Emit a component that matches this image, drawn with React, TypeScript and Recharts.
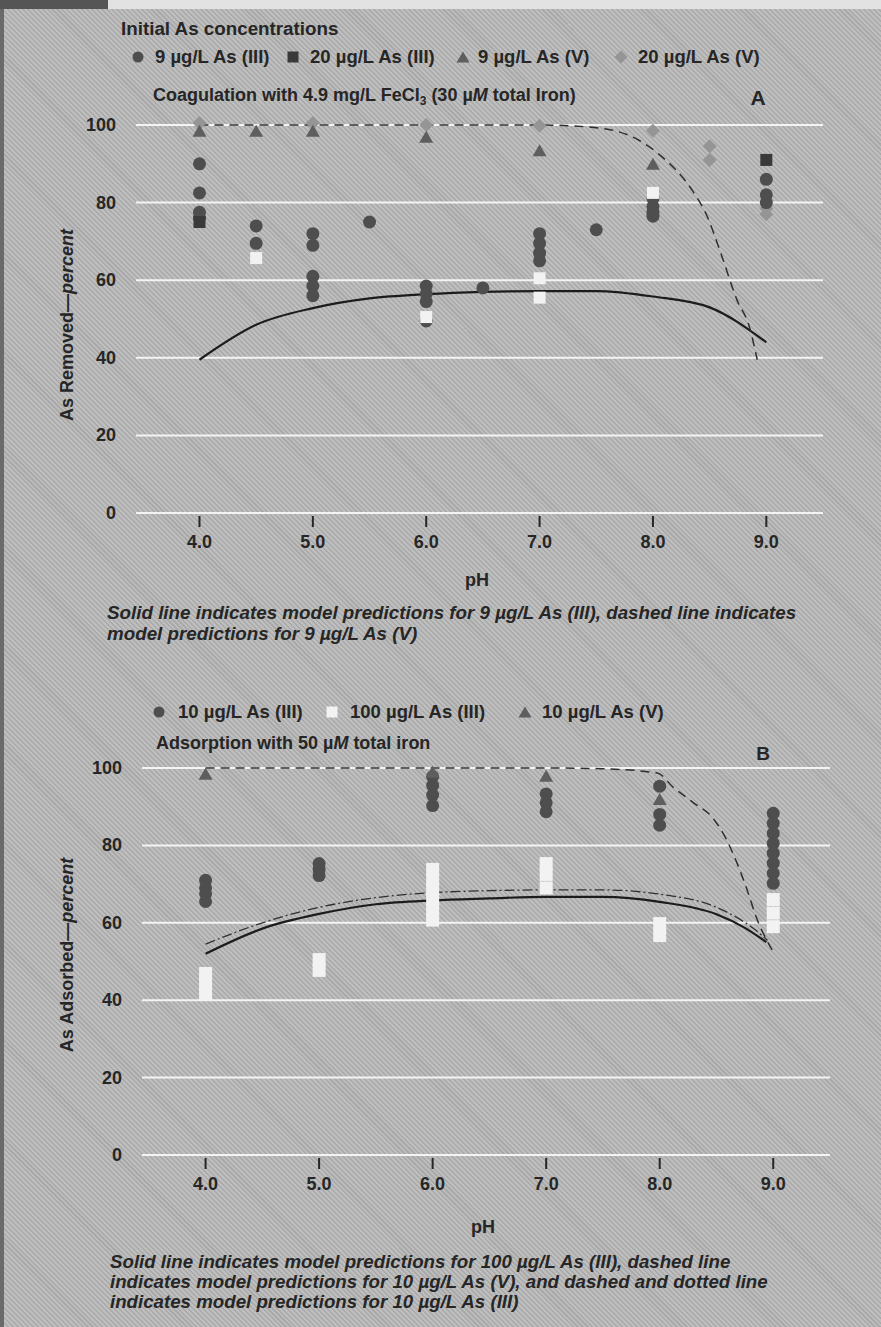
import React from 'react';
import { ComposedChart, Scatter, Line, XAxis, YAxis, ReferenceLine } from 'recharts';

const FONT = '"Liberation Sans", Arial, Helvetica, sans-serif';
const INK = '#262626';

const PH_TICKS = [4, 5, 6, 7, 8, 9];
const PCT_TICKS = [0, 20, 40, 60, 80, 100];
const PH_DOMAIN: [number, number] = [3.44, 9.5];
const PCT_DOMAIN: [number, number] = [0, 105];

type Pt = [number, number];

// ---- Panel A: coagulation (pH, % removed)
const A_AS3_9: Pt[] = [
  [4, 90], [4, 82.5], [4, 77.5], [4, 76], [4.5, 74], [4.5, 69.5],
  [5, 72], [5, 69], [5, 61], [5, 58.5], [5, 56], [5.5, 75],
  [6, 58.5], [6, 56.5], [6, 54.5], [6, 49.5], [6.5, 58],
  [7, 72], [7, 69.5], [7, 67], [7, 65], [7.5, 73],
  [8, 81], [8, 79], [8, 77.5], [8, 76.5], [9, 86], [9, 82], [9, 80],
];
const A_AS3_20: Pt[] = [[4, 75], [9, 91]];
const A_AS3_20_OPEN: Pt[] = [[4.5, 65.7], [6, 50.5], [7, 60.5], [7, 55.5], [8, 82.5]];
const A_AS5_9: Pt[] = [[4, 98.5], [4.5, 98.5], [5, 98.5], [6, 97], [7, 93.5], [8, 90]];
const A_AS5_20: Pt[] = [
  [4, 100.5], [5, 100.5], [6, 100], [7, 99.8], [8, 98.5],
  [8.5, 94.5], [8.5, 91], [9, 78.5], [9, 77],
];
const A_MODEL_AS3_9: Pt[] = [
  [4, 39.5], [4.5, 48.5], [5, 52.8], [5.5, 55.3], [6, 56.4], [6.5, 57],
  [7, 57.2], [7.5, 57.2], [8, 55.8], [8.5, 53], [9, 44],
];
const A_MODEL_AS5_9: Pt[] = [
  [4, 100], [5, 100], [6, 100], [7, 100], [7.5, 99.3], [7.88, 96], [8.06, 92.3],
  [8.35, 83], [8.47, 77], [8.61, 66], [8.74, 55], [8.85, 48], [8.92, 39.5],
];

// ---- Panel B: adsorption (pH, % adsorbed)
const B_AS3_10: Pt[] = [
  [4, 71], [4, 69], [4, 67.5], [4, 65.5], [5, 75.3], [5, 73.8], [5, 72.2],
  [6, 97.8], [6, 95.5], [6, 93], [6, 90.3], [7, 93.3], [7, 91], [7, 88.7],
  [8, 95.3], [8, 88], [8, 85.2],
  [9, 88.3], [9, 85.7], [9, 83.1], [9, 80.5], [9, 78], [9, 75.4], [9, 72.8], [9, 70.2],
];
const B_AS3_100: Pt[] = [
  [4, 46.9], [4, 44.3], [4, 41.7], [5, 50.5], [5, 47.7],
  [6, 73.8], [6, 71.2], [6, 68.6], [6, 66], [6, 63.3], [6, 60.7],
  [7, 75.3], [7, 72.5], [7, 69], [8, 59.8], [8, 56.7], [9, 66], [9, 62.5], [9, 59],
];
const B_AS5_10: Pt[] = [[4, 98.5], [6, 99], [7, 98], [8, 92]];
const B_MODEL_AS3_100: Pt[] = [
  [4, 52], [4.5, 58.5], [5, 62.3], [5.5, 64.8], [6, 65.8], [6.5, 66.3], [7, 66.7],
  [7.5, 66.7], [8, 65.4], [8.5, 62.2], [8.75, 58.7], [8.94, 55],
];
const B_MODEL_AS3_10: Pt[] = [
  [4, 54.5], [4.5, 60], [5, 64], [5.5, 66.5], [6, 67.8], [6.5, 68.3], [7, 68.5],
  [7.5, 68.5], [8, 67.4], [8.5, 64], [8.85, 58], [8.95, 55.5],
];
const B_MODEL_AS5_10: Pt[] = [
  [4, 100], [5, 100], [6, 100], [7, 100], [7.5, 99.8], [7.98, 98.7], [8.12, 95],
  [8.29, 91.2], [8.47, 87], [8.59, 81.4], [8.68, 75.5], [8.77, 68.5], [8.85, 61.5], [8.99, 53],
];

const toXY = (pts: Pt[]) => pts.map(([x, y]) => ({ x, y }));

const C_CIRCLE = '#4e4e4e';
const C_SQUARE = '#3a3a3a';
const C_TRI = '#5e5e5e';
const C_DIAMOND = '#959595';
const C_WHITE = '#f2f2f2';

const circleShape = (fill: string, r = 6.5) => (p: any) => (
  <circle cx={p.cx} cy={p.cy} r={r} fill={fill} />
);
const squareShape = (fill: string, s = 12) => (p: any) => (
  <rect x={p.cx - s / 2} y={p.cy - s / 2} width={s} height={s} fill={fill} />
);
const triangleShape = (fill: string, w = 14, h = 12) => (p: any) => (
  <polygon
    points={`${p.cx},${p.cy - h / 2} ${p.cx + w / 2},${p.cy + h / 2} ${p.cx - w / 2},${p.cy + h / 2}`}
    fill={fill}
  />
);
const diamondShape = (fill: string, s = 7) => (p: any) => (
  <polygon
    points={`${p.cx},${p.cy - s} ${p.cx + s},${p.cy} ${p.cx},${p.cy + s} ${p.cx - s},${p.cy}`}
    fill={fill}
  />
);

const PhTick = (props: any) => {
  const { x, y, payload } = props;
  return (
    <g>
      <line x1={x} x2={x} y1={y + 3} y2={y + 14} stroke={INK} strokeWidth={2} />
      <text
        x={x}
        y={y + 29}
        textAnchor="middle"
        dominantBaseline="central"
        fill={INK}
        fontFamily={FONT}
        fontWeight="bold"
        fontSize={18}
      >
        {Number(payload.value).toFixed(1)}
      </text>
    </g>
  );
};

const PctTick = (props: any) => {
  const { x, y, payload } = props;
  return (
    <text
      x={x}
      y={y}
      textAnchor="end"
      dominantBaseline="central"
      fill={INK}
      fontFamily={FONT}
      fontWeight="bold"
      fontSize={18}
    >
      {payload.value}
    </text>
  );
};

type Txt = {
  x: number;
  y: number;
  size?: number;
  bold?: boolean;
  italic?: boolean;
  center?: boolean;
  lh?: number;
  children: React.ReactNode;
};
const T = ({ x, y, size = 18, bold = true, italic = false, center = false, lh, children }: Txt) => (
  <div
    style={{
      position: 'absolute',
      left: x,
      top: y,
      transform: center ? 'translate(-50%, -50%)' : 'translateY(-50%)',
      fontFamily: FONT,
      fontSize: size,
      fontWeight: bold ? 'bold' : 'normal',
      fontStyle: italic ? 'italic' : 'normal',
      color: INK,
      whiteSpace: 'nowrap',
      lineHeight: lh ? `${lh}px` : 1,
    }}
  >
    {children}
  </div>
);

const Marker = ({ x, y, kind, fill }: { x: number; y: number; kind: string; fill: string }) => {
  const p = { cx: 8, cy: 8 };
  let el: React.ReactNode = null;
  if (kind === 'circle') el = circleShape(fill, 5.5)(p);
  if (kind === 'square') el = squareShape(fill, 11)(p);
  if (kind === 'triangle') el = triangleShape(fill, 13, 11)(p);
  if (kind === 'diamond') el = diamondShape(fill, 6.5)(p);
  return (
    <svg width={16} height={16} style={{ position: 'absolute', left: x - 8, top: y - 8 }}>
      {el}
    </svg>
  );
};

const YLabel = ({ x, y, text }: { x: number; y: number; text: string }) => (
  <div
    style={{
      position: 'absolute',
      left: x,
      top: y,
      transform: 'translate(-50%, -50%) rotate(-90deg)',
      fontFamily: FONT,
      fontSize: 18,
      fontWeight: 'bold',
      color: INK,
      whiteSpace: 'nowrap',
      lineHeight: 1,
    }}
  >
    {text}—<i>percent</i>
  </div>
);

const Panel = ({
  top,
  left,
  right,
  marginTop,
  marginBottom,
  children,
}: {
  top: number;
  left: number;
  right: number;
  marginTop: number;
  marginBottom: number;
  children: React.ReactNode;
}) => (
  <div style={{ position: 'absolute', left: 0, top }}>
    <ComposedChart
      width={881}
      height={560}
      margin={{ top: marginTop, right: 881 - right, bottom: marginBottom, left: left - 50 }}
    >
      <XAxis
        type="number"
        dataKey="x"
        domain={PH_DOMAIN}
        ticks={PH_TICKS}
        axisLine={false}
        tickLine={false}
        tickSize={0}
        tickMargin={0}
        height={40}
        tick={<PhTick />}
        interval={0}
      />
      <YAxis
        type="number"
        dataKey="y"
        domain={PCT_DOMAIN}
        ticks={PCT_TICKS}
        axisLine={false}
        tickLine={false}
        tickSize={0}
        tickMargin={20}
        width={50}
        tick={<PctTick />}
        interval={0}
      />
      {PCT_TICKS.map((v) => (
        <ReferenceLine key={v} y={v} stroke="#f4f4f4" strokeWidth={2} />
      ))}
      {children}
    </ComposedChart>
  </div>
);

export default function App() {
  return (
    <div
      style={{
        position: 'absolute',
        left: 0,
        top: 0,
        width: 881,
        height: 1327,
        overflow: 'hidden',
        background: 'repeating-linear-gradient(45deg, #bebebe 0px, #bebebe 2px, #aaaaaa 2px, #aaaaaa 3.5px)',
      }}
    >
      <div style={{ position: 'absolute', left: 0, top: 0, width: 108, height: 9, background: '#555' }} />
      <div style={{ position: 'absolute', left: 108, top: 0, width: 773, height: 9, background: '#e2e2e2' }} />
      <div style={{ position: 'absolute', left: 0, top: 9, width: 4, height: 1318, background: '#6a6a6a' }} />

      {/* Panel A */}
      <Panel top={0} left={136} right={823} marginTop={105.6} marginBottom={7}>
        <Line data={toXY(A_MODEL_AS3_9)} dataKey="y" type="monotone" stroke="#1c1c1c" strokeWidth={2.2} dot={false} isAnimationActive={false} />
        <Line data={toXY(A_MODEL_AS5_9)} dataKey="y" type="monotone" stroke="#2e2e2e" strokeWidth={1.5} strokeDasharray="9 6" dot={false} isAnimationActive={false} />
        <Scatter data={toXY(A_AS5_20)} shape={diamondShape(C_DIAMOND)} isAnimationActive={false} />
        <Scatter data={toXY(A_AS5_9)} shape={triangleShape(C_TRI)} isAnimationActive={false} />
        <Scatter data={toXY(A_AS3_9)} shape={circleShape(C_CIRCLE)} isAnimationActive={false} />
        <Scatter data={toXY(A_AS3_20)} shape={squareShape(C_SQUARE)} isAnimationActive={false} />
        <Scatter data={toXY(A_AS3_20_OPEN)} shape={squareShape(C_WHITE)} isAnimationActive={false} />
      </Panel>

      {/* Panel B */}
      <Panel top={643} left={142} right={830} marginTop={105.65} marginBottom={8}>
        <Line data={toXY(B_MODEL_AS3_10)} dataKey="y" type="monotone" stroke="#303030" strokeWidth={1.3} strokeDasharray="10 3 2 3" dot={false} isAnimationActive={false} />
        <Line data={toXY(B_MODEL_AS3_100)} dataKey="y" type="monotone" stroke="#1c1c1c" strokeWidth={2.2} dot={false} isAnimationActive={false} />
        <Line data={toXY(B_MODEL_AS5_10)} dataKey="y" type="monotone" stroke="#2e2e2e" strokeWidth={1.5} strokeDasharray="9 6" dot={false} isAnimationActive={false} />
        <Scatter data={toXY(B_AS3_100)} shape={squareShape(C_WHITE, 13)} isAnimationActive={false} />
        <Scatter data={toXY(B_AS3_10)} shape={circleShape(C_CIRCLE)} isAnimationActive={false} />
        <Scatter data={toXY(B_AS5_10)} shape={triangleShape(C_TRI)} isAnimationActive={false} />
      </Panel>

      {/* Panel A texts */}
      <T x={121} y={29} size={18.8}>Initial As concentrations</T>
      <Marker x={138} y={57} kind="circle" fill={C_CIRCLE} />
      <T x={155} y={57} size={18.5}>9 µg/L As (III)</T>
      <Marker x={293} y={57} kind="square" fill={C_SQUARE} />
      <T x={310} y={57} size={18.5}>20 µg/L As (III)</T>
      <Marker x={463} y={57} kind="triangle" fill={C_TRI} />
      <T x={478} y={57} size={18.5}>9 µg/L As (V)</T>
      <Marker x={621} y={57} kind="diamond" fill={C_DIAMOND} />
      <T x={638} y={57} size={18.5}>20 µg/L As (V)</T>
      <T x={153} y={96}>
        Coagulation with 4.9 mg/L FeCl<sub style={{ fontSize: 12, verticalAlign: -4 }}>3</sub> (30 µ<i>M</i> total Iron)
      </T>
      <T x={758} y={97} size={21} center>A</T>
      <YLabel x={67} y={325} text="As Removed" />
      <T x={477} y={580} center>pH</T>
      <T x={107} y={622.5} size={18.8} italic lh={21}>
        Solid line indicates model predictions for 9 µg/L As (III), dashed line indicates
        <br />
        model predictions for 9 µg/L As (V)
      </T>

      {/* Panel B texts */}
      <Marker x={159} y={712} kind="circle" fill={C_CIRCLE} />
      <T x={178} y={712} size={18.5}>10 µg/L As (III)</T>
      <Marker x={332} y={712} kind="square" fill={C_WHITE} />
      <T x={350} y={712} size={18.5}>100 µg/L As (III)</T>
      <Marker x={525} y={712} kind="triangle" fill={C_TRI} />
      <T x={542} y={712} size={18.5}>10 µg/L As (V)</T>
      <T x={156} y={743}>Adsorption with 50 µ<i>M</i> total iron</T>
      <T x={763} y={753} size={19} center>B</T>
      <YLabel x={67} y={955} text="As Adsorbed" />
      <T x={483} y={1227} center>pH</T>
      <T x={110} y={1282} size={18.7} italic lh={20}>
        Solid line indicates model predictions for 100 µg/L As (III), dashed line
        <br />
        indicates model predictions for 10 µg/L As (V), and dashed and dotted line
        <br />
        indicates model predictions for 10 µg/L As (III)
      </T>
    </div>
  );
}
